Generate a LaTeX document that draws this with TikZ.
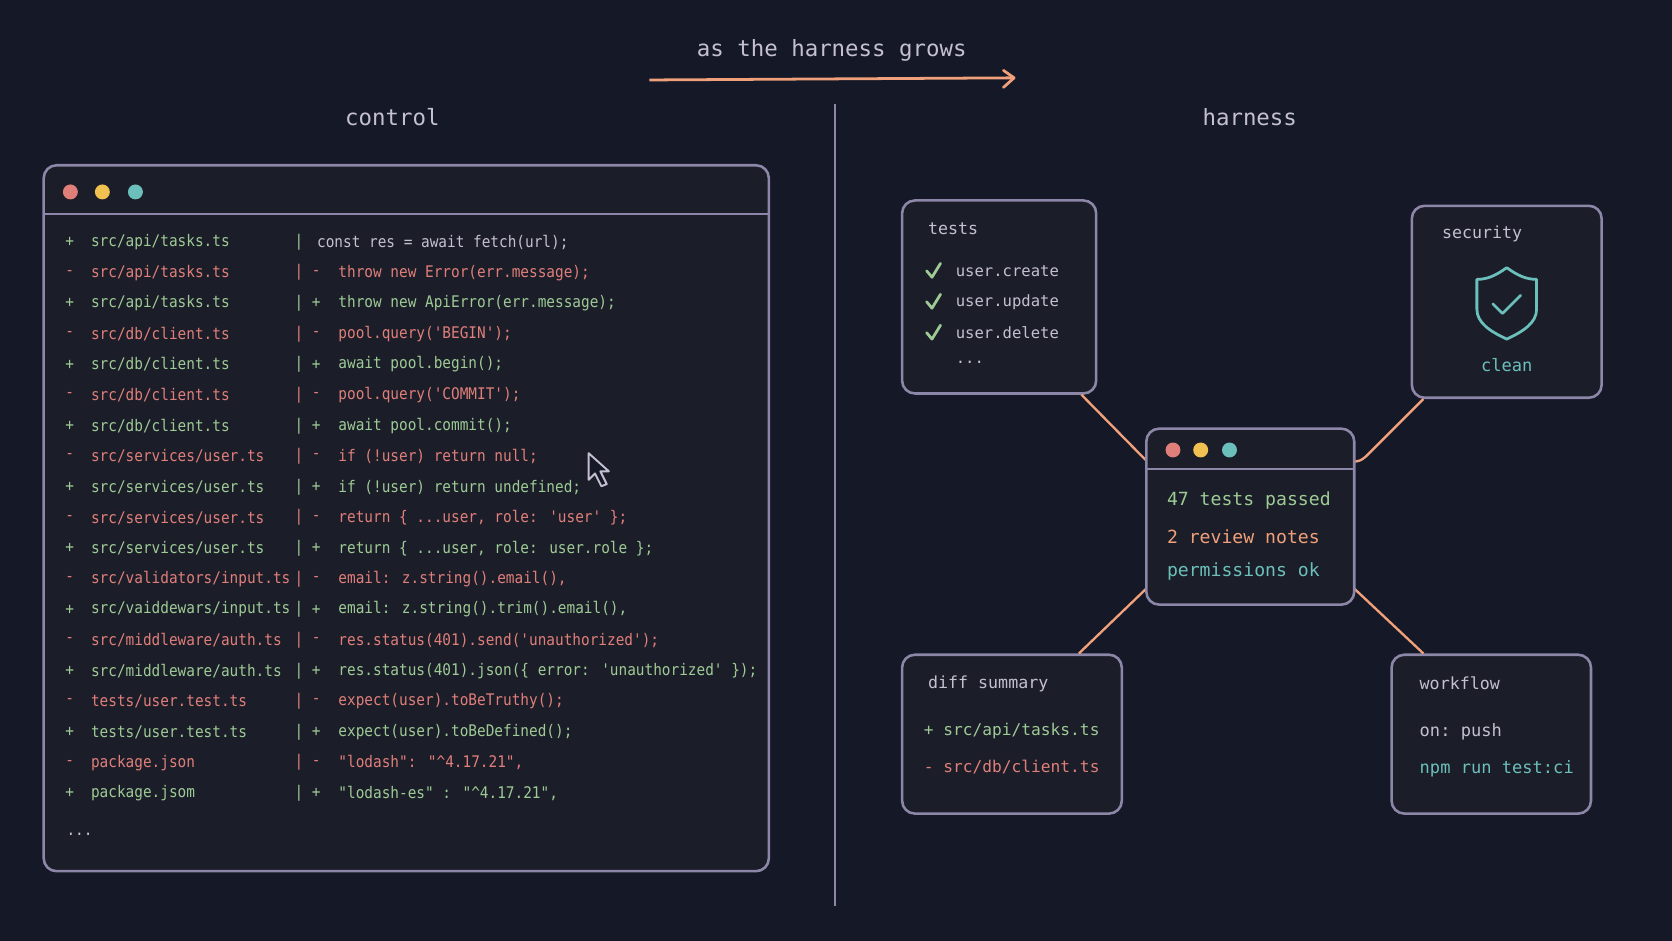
\documentclass[tikz,border=0pt]{standalone}
\usepackage{fontspec}
\setmonofont{DejaVu Sans Mono}
\newfontfamily\codefont[FakeStretch=0.9]{DejaVu Sans Mono}
\usetikzlibrary{fit,calc}
\definecolor{bg}{HTML}{151826}
\definecolor{boxf}{HTML}{1B1D29}
\definecolor{bord}{HTML}{8C86A8}
\definecolor{grn}{HTML}{9ECB95}
\definecolor{red}{HTML}{E07F7A}
\definecolor{org}{HTML}{F0A07A}
\definecolor{teal}{HTML}{6CC0BC}
\definecolor{yel}{HTML}{F0C050}
\definecolor{lt}{HTML}{C4C0D2}
\begin{document}
\begin{tikzpicture}[x=0.5pt,y=-0.5pt,
  box/.style={draw=bord,line width=1.2pt,fill=boxf,rounded corners=6pt,inner sep=0pt},
  code/.style={font=\codefont\fontsize{7.5}{8}\selectfont,anchor=west,inner sep=0pt},
  rt/.style={font=\ttfamily\fontsize{8.5}{9}\selectfont,anchor=west,inner sep=0pt},
  hd/.style={font=\ttfamily\fontsize{7.8}{9}\selectfont,anchor=west,inner sep=0pt,text=lt},
  ttl/.style={font=\ttfamily\fontsize{10.5}{11}\selectfont,inner sep=0pt,text=lt},
  conn/.style={draw=org,line width=1.1pt},
  dot/.style={circle,inner sep=0pt,minimum size=7pt}]
\fill[bg] (0,0) rectangle (1568,882);
\useasboundingbox (0,0) rectangle (1568,882);
% title
\node[ttl] (title) at (780,47) {as the harness grows};
\coordinate (a1) at (609,75); \coordinate (a2) at (951,73);
\draw[org,line width=1.3pt] (a1) -- (a2);
\draw[org,line width=1.3pt,line cap=round,line join=round] (941,66) -- (951,73) -- (941,82);
\node[ttl] (ctl) at (368,110) {control};
\node[ttl] (har) at (1172,110) {harness};
\coordinate (d1) at (783,98); \coordinate (d2) at (783,850);
\draw[bord,line width=1.2pt] (d1) -- (d2);
% code window
\node[box,fit={(41,155)(721,817)}] (win) {};
\draw[bord,line width=0.8pt] (41,201) -- (721,201);
\node[dot,fill=red] (w1) at (66,180) {};
\node[dot,fill=yel] (w2) at (96,180) {};
\node[dot,fill=teal] (w3) at (127,180) {};
\foreach \i/\s/\p/\c [count=\n from 0] in {
 +/src\slash api\slash tasks.ts/{}/{const res = await fetch(url);},
 -/src\slash api\slash tasks.ts/-/{throw new Error(err.message);},
 +/src\slash api\slash tasks.ts/+/{throw new ApiError(err.message);},
 -/src\slash db\slash client.ts/-/{pool.query('BEGIN');},
 +/src\slash db\slash client.ts/+/{await pool.begin();},
 -/src\slash db\slash client.ts/-/{pool.query('COMMIT');},
 +/src\slash db\slash client.ts/+/{await pool.commit();},
 -/src\slash services\slash user.ts/-/{if (!user) return null;},
 +/src\slash services\slash user.ts/+/{if (!user) return undefined;},
 -/src\slash services\slash user.ts/-/{return \{ ...user, role: 'user' \};},
 +/src\slash services\slash user.ts/+/{return \{ ...user, role: user.role \};},
 -/src\slash validators\slash input.ts/-/{email: z.string().email(),},
 +/src\slash vaiddewars\slash input.ts/+/{email: z.string().trim().email(),},
 -/src\slash middleware\slash auth.ts/-/{res.status(401).send('unauthorized');},
 +/src\slash middleware\slash auth.ts/+/{res.status(401).json(\{ error: 'unauthorized' \});},
 -/tests\slash user.test.ts/-/{expect(user).toBeTruthy();},
 +/tests\slash user.test.ts/+/{expect(user).toBeDefined();},
 -/package.json/-/{"lodash": "\string^4.17.21",},
 +/package.jsom/+/{"lodash-es" : "\string^4.17.21",}}
{
  \pgfmathsetmacro{\yy}{227+28.72*\n}
  \if\i+\def\cl{grn}\else\def\cl{red}\fi
  \node[code,text=\cl] at (61,\yy) {\i};
  \node[code,text=\cl] at (85,\yy) {\s};
  \node[code,text=\cl] at (276,\yy) {|};
  \ifnum\n=0
    \node[code,text=lt] at (297,\yy) {\c};
  \else
    \node[code,text=\cl] at (292,\yy) {\p};
    \node[code,text=\cl] at (317,\yy) {\c};
  \fi
}
\node[code,text=lt] (ell) at (62,782) {...};
% cursor
\draw[lt,fill=bg,line width=0.9pt,line join=round] (552,425) -- (552,450) -- (558,444) -- (564,456) -- (569,454) -- (563,442) -- (571,442) -- cycle;
% tests box
\node[box,fit={(846,188)(1028,369)}] (tests) {};
\node[hd] at (870,215) {tests};
\foreach \t/\yy in {user.create/254,user.update/283,user.delete/312}{
  \draw[grn,line width=1.3pt,line cap=round,line join=round] (869,\yy) -- (874,\yy+6) -- (882,\yy-7);
  \node[rt,text=lt,font=\ttfamily\fontsize{7.3}{9}\selectfont] at (896,\yy) {\t};
}
\node[rt,text=lt,font=\ttfamily\fontsize{7.3}{9}\selectfont] at (896,340) {...};
% security
\node[box,fit={(1324,193)(1502,373)}] (sec) {};
\node[hd] at (1352,219) {security};
\draw[teal,line width=1.3pt,line join=round] (1413,251) .. controls (1402,259) and (1394,262) .. (1385,262) -- (1385,290) .. controls (1385,303) and (1398,311) .. (1413,318) .. controls (1428,311) and (1441,303) .. (1441,290) -- (1441,262) .. controls (1432,262) and (1424,259) .. (1413,251) -- cycle;
\draw[teal,line width=1.3pt,line cap=round,line join=round] (1400,285) -- (1409,294) -- (1426,277);
\node[rt,text=teal,anchor=center,font=\ttfamily\fontsize{8}{9}\selectfont] at (1413,342) {clean};
% diff
\node[box,fit={(846,614)(1052,763)}] (diff) {};
\node[hd] at (870,641) {diff summary};
\node[rt,text=grn,font=\ttfamily\fontsize{7.6}{9}\selectfont] at (866,686) {+ src/api/tasks.ts};
\node[rt,text=red,font=\ttfamily\fontsize{7.6}{9}\selectfont] at (866,719) {- src/db/client.ts};
% workflow
\node[box,fit={(1305,614)(1492,763)}] (wf) {};
\node[hd] at (1331,641) {workflow};
\node[rt,text=lt,font=\ttfamily\fontsize{8}{9}\selectfont] at (1331,686) {on: push};
\node[rt,text=teal,font=\ttfamily\fontsize{8}{9}\selectfont] at (1331,721) {npm run test:ci};
% connectors
\draw[conn] ($(tests.south east)+(-15,0)$) -- (1075,432) coordinate (c1);
\draw[conn] ($(sec.south west)+(12,0)$) -- (1281,428) .. controls (1276,432) .. (1270,433) coordinate (c2);
\draw[conn] ($(diff.north west)+(167,0)$) -- (1075,552);
\draw[conn] ($(wf.north west)+(31,0)$) -- (1270,552);
% center
\node[box,fit={(1075,402)(1270,567)}] (cen) {};
\draw[bord,line width=0.8pt] (1075,440) -- (1270,440);
\node[dot,fill=red] (c1d) at (1100,422) {};
\node[dot,fill=yel] (c2d) at (1126,422) {};
\node[dot,fill=teal] (c3d) at (1153,422) {};
\node[rt,text=grn] at (1094,469) {47 tests passed};
\node[rt,text=org] at (1094,503) {2 review notes};
\node[rt,text=teal] at (1094,536) {permissions ok};
\end{tikzpicture}
\end{document}
